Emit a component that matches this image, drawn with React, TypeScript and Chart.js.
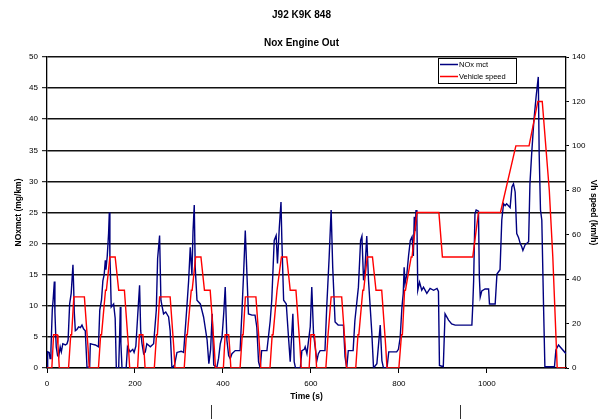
import React, { useEffect, useRef } from 'react';
import { Chart, registerables } from 'chart.js';

Chart.register(...registerables);

const chartTitle = 'J92 K9K 848';
const chartSubtitle = 'Nox Engine Out';
const noxName = 'NOx mct';
const speedName = 'Vehicle speed';
const xTitle = 'Time (s)';
const yLeftTitle = 'NOxmct (mg/km)';
const yRightTitle = 'Vh speed (km/h)';

const xMax = 1180;
const xTickValues = [0, 200, 400, 600, 800, 1000];
const yLeftMax = 50;
const yLeftStep = 5;
const yRightMax = 140;
const yRightStep = 20;

// NOx engine-out, [time s, mg/km]
const noxEce1: number[][] = [
  [0, 0], [1.5, 2.6], [5, 2.5], [7, 1.5], [9, 3], [12, 9.3], [14, 11], [16.7, 13.9], [18, 9], [20, 5],
  [21, 3.4], [24, 2], [26.5, 1.8], [30, 3.4], [32.6, 2.6], [36, 3.9], [41.7, 3.7], [45.5, 3.9], [48, 4.5],
  [51.5, 10.3], [55, 12], [59, 16.6], [60.6, 13], [62, 9], [64.4, 6], [68, 6.2], [72, 6.6], [76, 6.5],
  [79.5, 6.9], [83, 6.3], [87, 6], [89, 3], [91, 0], [97, 0.2], [98.5, 3.9], [104, 3.8], [110, 3.7],
  [117, 3.4], [120, 9.3], [124, 11], [127, 14], [130, 15], [132.6, 17.3], [134, 15.8], [137, 18],
  [140, 21.6], [141.7, 25], [143, 18], [144, 15.7], [146, 9.8], [151.5, 10.3], [155, 8], [157.6, 0],
  [163, 0], [165, 5], [166.7, 9.8], [168, 4], [170.5, 0], [180, 0], [183, 3.4], [189, 2.6],
];
const noxEce2: number[][] = [
  [195, 3], [198, 2.5], [202, 3.5], [206, 8.2], [210.5, 13.3], [213, 6], [216, 3.9], [219.7, 2.3],
  [223.5, 2.6], [227, 3.9], [235, 3.4], [242.4, 3.9], [248.5, 9.3], [251.5, 17.6], [256, 21.3],
  [259, 10.9], [265, 8.7], [270, 9], [276.5, 8.2], [280, 6], [284, 0], [290, 0.5], [295.5, 2.5],
  [305, 2.7], [310.6, 2.5], [318, 9.8], [322, 14], [325.7, 19.4], [329.5, 15], [332, 22], [334.8, 26.2],
  [337, 16.2], [341, 10.9], [348.6, 10.3], [356, 8.2], [364, 4.5], [368, 0.7], [372, 3], [375.6, 8.7],
  [379, 0.5], [386, 0],
];
const noxEce3: number[][] = [
  [390, 1.5], [394, 3.9], [398, 5], [402, 9], [405.2, 13], [409, 4.5], [413, 2], [416.6, 1.5],
  [420.5, 2.3], [428, 2.8], [439, 2.8], [443, 8.7], [447, 15.2], [450.8, 22.1], [454.5, 15.2],
  [458, 8.7], [466, 8.5], [473, 8.5], [477, 6.6], [481, 1], [484.8, 0], [488, 2.8], [500, 2.8],
  [507.5, 7.6], [511, 10.9], [516.6, 20.5], [521, 21.3], [524, 16.8], [528, 22.4], [532, 26.7],
  [534, 20.5], [538, 10.9], [544, 10.3], [549.5, 4.5], [553, 1], [559, 8.7], [562, 1], [565, 0],
  [576, 0], [579.5, 2.8],
];
const noxEce4: number[][] = [
  [585, 3], [587, 3.4], [591, 2.3], [598.5, 6.6], [602, 13], [606, 5.5], [613.6, 1.2], [617, 2.3],
  [621, 2.8], [632, 2.8], [636, 9.8], [641.5, 17.8], [646, 25.4], [649.6, 16.2], [655, 7.4], [662, 6.9],
  [674, 6.9], [677.6, 1.8], [681.4, 0], [685, 2.8], [696, 2.8], [700, 7.6], [708, 13], [713, 20.5],
  [716, 21.2], [719.7, 14.1], [723, 16], [727, 21.2], [731, 14.1], [738.6, 5.5], [742.4, 0], [750, 0.7],
  [757.6, 6.9], [761.4, 1.2], [765, 0], [773, 0], [777, 2.6],
];
const noxEudc: number[][] = [
  [780, 2.6], [795, 2.6], [799, 3], [803, 4.9], [807, 9.8], [810, 12], [812, 16.2], [814, 13.6],
  [818, 15], [822, 18], [826, 20.5], [830, 21.1], [833, 18], [835, 24.3], [837, 22], [839, 25.4],
  [841, 24], [843, 12.5], [847, 13.8], [852, 12.5], [856, 13], [863.6, 12], [871, 12.8], [879, 12.5],
  [886.7, 12.8], [890, 12.3], [892.3, 0.4], [901, 0.2], [905, 8.7], [913, 7.7], [920, 7.1], [928, 6.9],
  [939, 6.9], [966, 6.9], [968, 10], [970, 14], [973, 24.8], [975.7, 25.4], [981, 25.2], [983, 14.6],
  [985, 11.4], [988.6, 12.4], [996, 12.7], [1004, 12.7], [1006, 10.3], [1019, 10.3], [1023, 15.1],
  [1030, 15.8], [1034, 23.8], [1038, 26.4], [1041.6, 26.1], [1045, 26.4], [1053, 25.8], [1057, 29.1],
  [1060.6, 29.6], [1064.4, 28.3], [1068, 21.6], [1072, 21], [1076, 20], [1079.4, 19.5], [1082, 18.9],
  [1087, 19.8], [1095, 20.3], [1098, 29.6], [1102, 34.5], [1107, 39.8], [1112, 43.6], [1117, 46.8],
  [1119, 34.5], [1122, 25.4], [1125, 23.8], [1129, 9.8], [1132, 0.2], [1153.8, 0.2], [1157, 2.9],
  [1163, 3.7], [1180, 2.3],
];

// Vehicle speed, km/h
const eceSpeedValues = [0, 0, 15, 15, 10, 0, 0, 15, 15, 32, 32, 10, 0, 0, 15, 15, 35, 35, 50, 50, 35, 35, 10, 0];
const ece1SpeedTimes = [0, 11, 15, 23, 25, 28, 49, 54, 56, 61, 85, 93, 96, 117, 122, 124, 133, 135, 143, 155, 163, 176, 185, 188];
const ece2SpeedTimes = [195, 206, 210, 218, 220, 223, 244, 249, 251, 256, 280, 288, 291, 312, 317, 319, 328, 330, 338, 350, 358, 371, 380, 383];
const ece3SpeedTimes = [390, 401, 405, 413, 415, 418, 439, 444, 446, 451, 475, 483, 486, 507, 512, 514, 523, 525, 533, 545, 553, 566, 575, 578];
const ece4SpeedTimes = [585, 596, 600, 608, 610, 613, 634, 639, 641, 646, 670, 678, 681, 702, 707, 709, 718, 720, 728, 740, 748, 761, 770, 773];
const eudcSpeedTimes = [780, 800, 806, 808, 813, 815, 828, 830, 841, 891, 899, 968, 981, 1031, 1066, 1096, 1116, 1126, 1142, 1150, 1160, 1180];
const eudcSpeedValues = [0, 0, 15, 15, 35, 35, 50, 50, 70, 70, 50, 50, 70, 70, 100, 100, 120, 120, 80, 50, 0, 0];

const FONT = '"Liberation Sans", Arial, sans-serif';

const boxLegend = {
  id: 'boxLegend',
  afterDraw(chart: any) {
    const { ctx, chartArea } = chart;
    const w = 78;
    const h = 25;
    const x = Math.round(chartArea.right - 50 - w);
    const y = Math.round(chartArea.top + 1);
    ctx.save();
    ctx.fillStyle = '#ffffff';
    ctx.fillRect(x, y, w, h);
    ctx.strokeStyle = '#000000';
    ctx.lineWidth = 1;
    ctx.strokeRect(x + 0.5, y + 0.5, w, h);
    const items = [chart.data.datasets[0], chart.data.datasets[1]];
    items.forEach((ds: any, i: number) => {
      const ly = y + 6.5 + i * 12;
      ctx.strokeStyle = ds.borderColor;
      ctx.lineWidth = 1.5;
      ctx.beginPath();
      ctx.moveTo(x + 2, ly);
      ctx.lineTo(x + 20, ly);
      ctx.stroke();
      ctx.fillStyle = '#000000';
      ctx.font = `7.5px ${FONT}`;
      ctx.textBaseline = 'middle';
      ctx.textAlign = 'left';
      ctx.fillText(ds.label, x + 21, ly);
    });
    ctx.restore();
  },
};

export default function App() {
  const canvasRef = useRef<HTMLCanvasElement | null>(null);

  useEffect(() => {
    if (!canvasRef.current) return;
    const noxData = [...noxEce1, ...noxEce2, ...noxEce3, ...noxEce4, ...noxEudc].map(([x, y]) => ({ x, y }));
    const speedData = [
      ...ece1SpeedTimes.map((t, i) => ({ x: t, y: eceSpeedValues[i] })),
      ...ece2SpeedTimes.map((t, i) => ({ x: t, y: eceSpeedValues[i] })),
      ...ece3SpeedTimes.map((t, i) => ({ x: t, y: eceSpeedValues[i] })),
      ...ece4SpeedTimes.map((t, i) => ({ x: t, y: eceSpeedValues[i] })),
      ...eudcSpeedTimes.map((t, i) => ({ x: t, y: eudcSpeedValues[i] })),
    ];
    const tickFont = { family: FONT, size: 8 };
    const titleFont = { family: FONT, size: 8.5, weight: 'bold' as const };
    const plain = (v: any) => String(v);
    const chart = new Chart(canvasRef.current, {
      type: 'line',
      data: {
        datasets: [
          {
            label: noxName,
            data: noxData,
            yAxisID: 'y',
            borderColor: '#000080',
            borderWidth: 1.4,
            pointRadius: 0,
            tension: 0,
            fill: false,
            order: 1,
          },
          {
            label: speedName,
            data: speedData,
            yAxisID: 'y1',
            borderColor: '#ff0000',
            borderWidth: 1.4,
            pointRadius: 0,
            tension: 0,
            fill: false,
            order: 0,
          },
        ],
      },
      options: {
        animation: false,
        responsive: false,
        layout: { padding: 0 },
        plugins: {
          legend: { display: false },
          tooltip: { enabled: false },
          title: {
            display: true,
            text: chartTitle,
            color: '#000',
            font: { family: FONT, size: 10, weight: 'bold' },
            padding: { top: 9, bottom: 16 },
          },
          subtitle: {
            display: true,
            text: chartSubtitle,
            color: '#000',
            font: { family: FONT, size: 10, weight: 'bold' },
            padding: { top: 0, bottom: 8 },
          },
        },
        scales: {
          x: {
            type: 'linear',
            min: 0,
            max: xMax,
            afterBuildTicks: (s: any) => { s.ticks = xTickValues.map((v) => ({ value: v })); },
            ticks: { color: '#000', font: tickFont, padding: 6, maxRotation: 0, autoSkip: false, callback: plain },
            grid: { drawOnChartArea: false, drawTicks: true, tickLength: 5, color: '#000', lineWidth: 1 },
            border: { color: '#000', width: 1.3 },
            title: { display: true, text: xTitle, color: '#000', font: titleFont, padding: { top: 2, bottom: 17 } },
            afterFit: (s: any) => { s.height = 51; },
          },
          y: {
            position: 'left',
            min: 0,
            max: yLeftMax,
            ticks: { stepSize: yLeftStep, color: '#000', font: tickFont, padding: 4, callback: plain },
            grid: { color: '#111', lineWidth: 1.4, tickLength: 5, tickColor: '#000', tickWidth: 1 },
            border: { color: '#000', width: 1.3 },
            title: { display: true, text: yLeftTitle, color: '#000', font: titleFont, padding: { top: 14, bottom: 0 } },
            afterFit: (s: any) => { s.width = 47; },
          },
          y1: {
            position: 'right',
            min: 0,
            max: yRightMax,
            ticks: { stepSize: yRightStep, color: '#000', font: tickFont, padding: 3, callback: plain },
            grid: { drawOnChartArea: false, tickLength: 3, color: '#000', lineWidth: 1 },
            border: { color: '#000', width: 1.3 },
            title: { display: true, text: yRightTitle, color: '#000', font: titleFont, padding: { top: 5, bottom: 0 } },
            afterFit: (s: any) => { s.width = 37; },
          },
        },
      },
      plugins: [boxLegend],
    } as any);
    return () => chart.destroy();
  }, []);

  return (
    <div style={{ position: 'absolute', left: 0, top: 0, width: 603, height: 419, background: '#fff', overflow: 'hidden' }}>
      <canvas ref={canvasRef} width={603} height={419} style={{ display: 'block' }} />
      <div style={{ position: 'absolute', left: 211, top: 405, width: 1, height: 14, background: '#333' }} />
      <div style={{ position: 'absolute', left: 460, top: 405, width: 1, height: 14, background: '#333' }} />
    </div>
  );
}
